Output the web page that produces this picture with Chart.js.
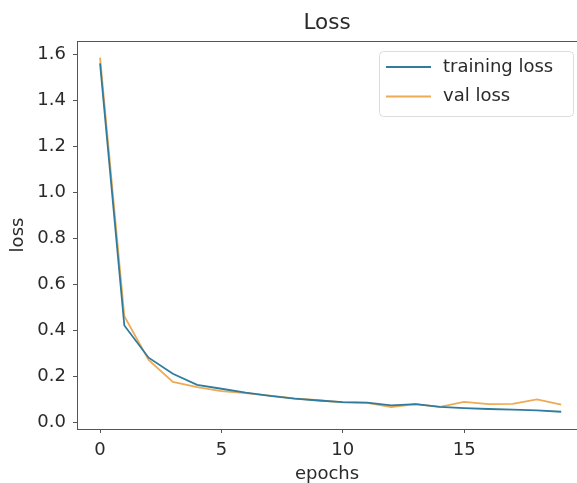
<!DOCTYPE html>
<html>
<head>
<meta charset="utf-8">
<title>Loss</title>
<script src="https://cdn.jsdelivr.net/npm/chart.js@4"></script>
<style>
  html, body { margin:0; padding:0; background:#fff; }
  canvas { display:block; }
</style>
</head>
<body>
<canvas id="lossChart" width="577" height="483"></canvas>
<script>
// --- Data ---
const epochs = [0,1,2,3,4,5,6,7,8,9,10,11,12,13,14,15,16,17,18,19];
const trainingLoss = [1.56,0.42,0.28,0.21,0.162,0.145,0.128,0.114,0.102,0.094,0.087,0.085,0.073,0.078,0.066,0.061,0.057,0.054,0.051,0.045];
const valLoss = [1.585,0.46,0.27,0.175,0.152,0.135,0.126,0.115,0.103,0.095,0.086,0.084,0.065,0.078,0.066,0.088,0.078,0.079,0.099,0.076];
const xTicks = [0,5,10,15];
const yTicks = [0,0.2,0.4,0.6,0.8,1.0,1.2,1.4,1.6];

const FONT = "'DejaVu Sans', sans-serif";
const INK = '#2a2a2a';
const AXIS = '#555';
const COLORS = { train:'#2f7c9e', val:'#eeaa55' };

const toPoints = ys => epochs.map((e,i) => ({x:e, y:ys[i]}));

// --- Frame top spine + boxed legend (matplotlib look) ---
const framePlugin = {
  id: 'frame',
  afterDraw(chart){
    const {ctx, chartArea:a} = chart;
    ctx.save();
    ctx.strokeStyle = AXIS; ctx.lineWidth = 1;
    ctx.beginPath(); ctx.moveTo(a.left, a.top+0.5); ctx.lineTo(a.right, a.top+0.5); ctx.stroke();

    // legend box
    const bx=379, by=51, bw=194, bh=65, r=4;
    ctx.fillStyle = 'rgba(255,255,255,0.85)';
    ctx.strokeStyle = '#dcdcdc';
    ctx.beginPath(); ctx.roundRect(bx+0.5, by+0.5, bw, bh, r); ctx.fill(); ctx.stroke();
    ctx.font = '18px ' + FONT;
    ctx.textBaseline = 'middle';
    chart.data.datasets.forEach((ds,i)=>{
      const y = 67 + i*29.5;
      ctx.strokeStyle = ds.borderColor; ctx.lineWidth = 2;
      ctx.beginPath(); ctx.moveTo(386, y); ctx.lineTo(431, y); ctx.stroke();
      ctx.fillStyle = INK;
      ctx.fillText(ds.label, 443, y);
    });
    ctx.restore();
  }
};

new Chart(document.getElementById('lossChart'), {
  type: 'line',
  data: {
    datasets: [
      { label:'training loss', data:toPoints(trainingLoss), borderColor:COLORS.train, borderWidth:1.8, pointRadius:0, tension:0, fill:false },
      { label:'val loss', data:toPoints(valLoss), borderColor:COLORS.val, borderWidth:1.8, pointRadius:0, tension:0, fill:false }
    ]
  },
  options: {
    responsive:false,
    animation:false,
    layout:{ padding:0 },
    plugins:{
      legend:{ display:false },
      tooltip:{ enabled:false },
      title:{
        display:true, text:'Loss', color:INK, fullSize:false,
        font:{ family:FONT, size:21.5, weight:'normal', lineHeight:1.2 },
        padding:{ top:10.1, bottom:5.1 }
      }
    },
    scales:{
      x:{
        type:'linear', min:-0.95, max:19.65,
        afterBuildTicks: s => { s.ticks = xTicks.map(v=>({value:v})); },
        afterFit: s => { s.height = 54; },
        grid:{ drawOnChartArea:false, drawTicks:true, tickLength:4, color:AXIS },
        border:{ display:true, color:AXIS, width:1 },
        ticks:{ color:INK, padding:7, maxRotation:0, font:{ family:FONT, size:18 } },
        title:{ display:true, text:'epochs', color:INK, font:{ family:FONT, size:18, lineHeight:1 }, padding:{ top:0, bottom:0 } }
      },
      y:{
        type:'linear', min:-0.03, max:1.657,
        afterBuildTicks: s => { s.ticks = yTicks.map(v=>({value:v})); },
        afterFit: s => { s.width = 77; },
        grid:{ drawOnChartArea:false, drawTicks:true, tickLength:4, color:AXIS },
        border:{ display:true, color:AXIS, width:1 },
        ticks:{ color:INK, padding:7, font:{ family:FONT, size:18 }, callback: v => v.toFixed(1) },
        title:{ display:true, text:'loss', color:INK, font:{ family:FONT, size:18, lineHeight:1 }, padding:{ top:9, bottom:0 } }
      }
    }
  },
  plugins:[framePlugin]
});
</script>
</body>
</html>
